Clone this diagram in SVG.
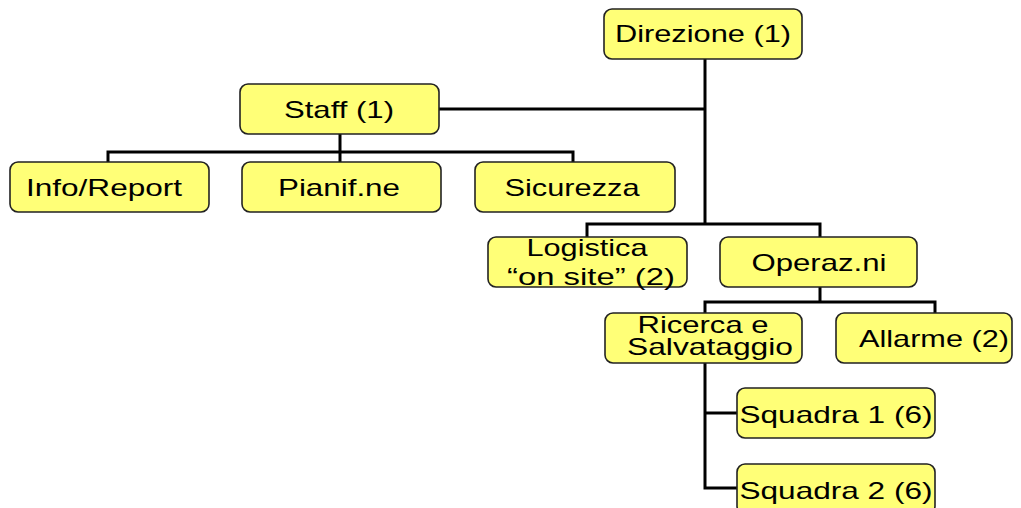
<svg xmlns="http://www.w3.org/2000/svg" width="1021" height="508" viewBox="0 0 1021 508">
<style>
.box{fill:#FFFF77;stroke:#222;stroke-width:1.6}
.lbl{font-family:"Liberation Sans",Arial,sans-serif;font-size:24px;fill:#000;text-anchor:middle}
.con{fill:none;stroke:#000;stroke-width:3}
</style>
<rect x="0" y="0" width="1021" height="508" fill="#fff"/>
<g id="connectors" class="con">
<path d="M705,59V224"/>
<path d="M439,109H705"/>
<path d="M587,237V224H820V237"/>
<path d="M820,287V302"/>
<path d="M705,313V302H935V313"/>
<path d="M705,363V488H737"/>
<path d="M705,413H737"/>
<path d="M340,134V162"/>
<path d="M108,162V152H573V162"/>
</g>
<g id="direzione"><rect class="box" x="604" y="9" width="198" height="50" rx="8"/><text class="lbl" x="703" y="42" textLength="176" lengthAdjust="spacingAndGlyphs">Direzione (1)</text></g>
<g id="staff"><rect class="box" x="240" y="84" width="199" height="50" rx="8"/><text class="lbl" x="339" y="118" textLength="110" lengthAdjust="spacingAndGlyphs">Staff (1)</text></g>
<g id="info"><rect class="box" x="10" y="162" width="199" height="50" rx="8"/><text class="lbl" x="104" y="196" textLength="156" lengthAdjust="spacingAndGlyphs">Info/Report</text></g>
<g id="pianif"><rect class="box" x="242" y="162" width="199" height="50" rx="8"/><text class="lbl" x="339" y="196" textLength="122" lengthAdjust="spacingAndGlyphs">Pianif.ne</text></g>
<g id="sicurezza"><rect class="box" x="475" y="162" width="200" height="50" rx="8"/><text class="lbl" x="572" y="196" textLength="135" lengthAdjust="spacingAndGlyphs">Sicurezza</text></g>
<g id="logistica"><rect class="box" x="488" y="237" width="199" height="50" rx="8"/><text class="lbl" x="587" y="256" textLength="121" lengthAdjust="spacingAndGlyphs">Logistica</text><text class="lbl" x="591" y="285" textLength="168" lengthAdjust="spacingAndGlyphs">“on site”  (2)</text></g>
<g id="operazni"><rect class="box" x="720" y="237" width="197" height="50" rx="8"/><text class="lbl" x="819" y="271" textLength="135" lengthAdjust="spacingAndGlyphs">Operaz.ni</text></g>
<g id="ricerca"><rect class="box" x="605" y="313" width="197" height="50" rx="8"/><text class="lbl" x="703" y="333" textLength="131" lengthAdjust="spacingAndGlyphs">Ricerca e</text><text class="lbl" x="710" y="355" textLength="166" lengthAdjust="spacingAndGlyphs">Salvataggio</text></g>
<g id="allarme"><rect class="box" x="836" y="313" width="176" height="50" rx="8"/><text class="lbl" x="934" y="347" textLength="150" lengthAdjust="spacingAndGlyphs">Allarme (2)</text></g>
<g id="squadra1"><rect class="box" x="737" y="388" width="198" height="50" rx="8"/><text class="lbl" x="836" y="423" textLength="193" lengthAdjust="spacingAndGlyphs">Squadra 1 (6)</text></g>
<g id="squadra2"><rect class="box" x="737" y="464" width="198" height="50" rx="8"/><text class="lbl" x="836" y="499" textLength="193" lengthAdjust="spacingAndGlyphs">Squadra 2 (6)</text></g>
</svg>
